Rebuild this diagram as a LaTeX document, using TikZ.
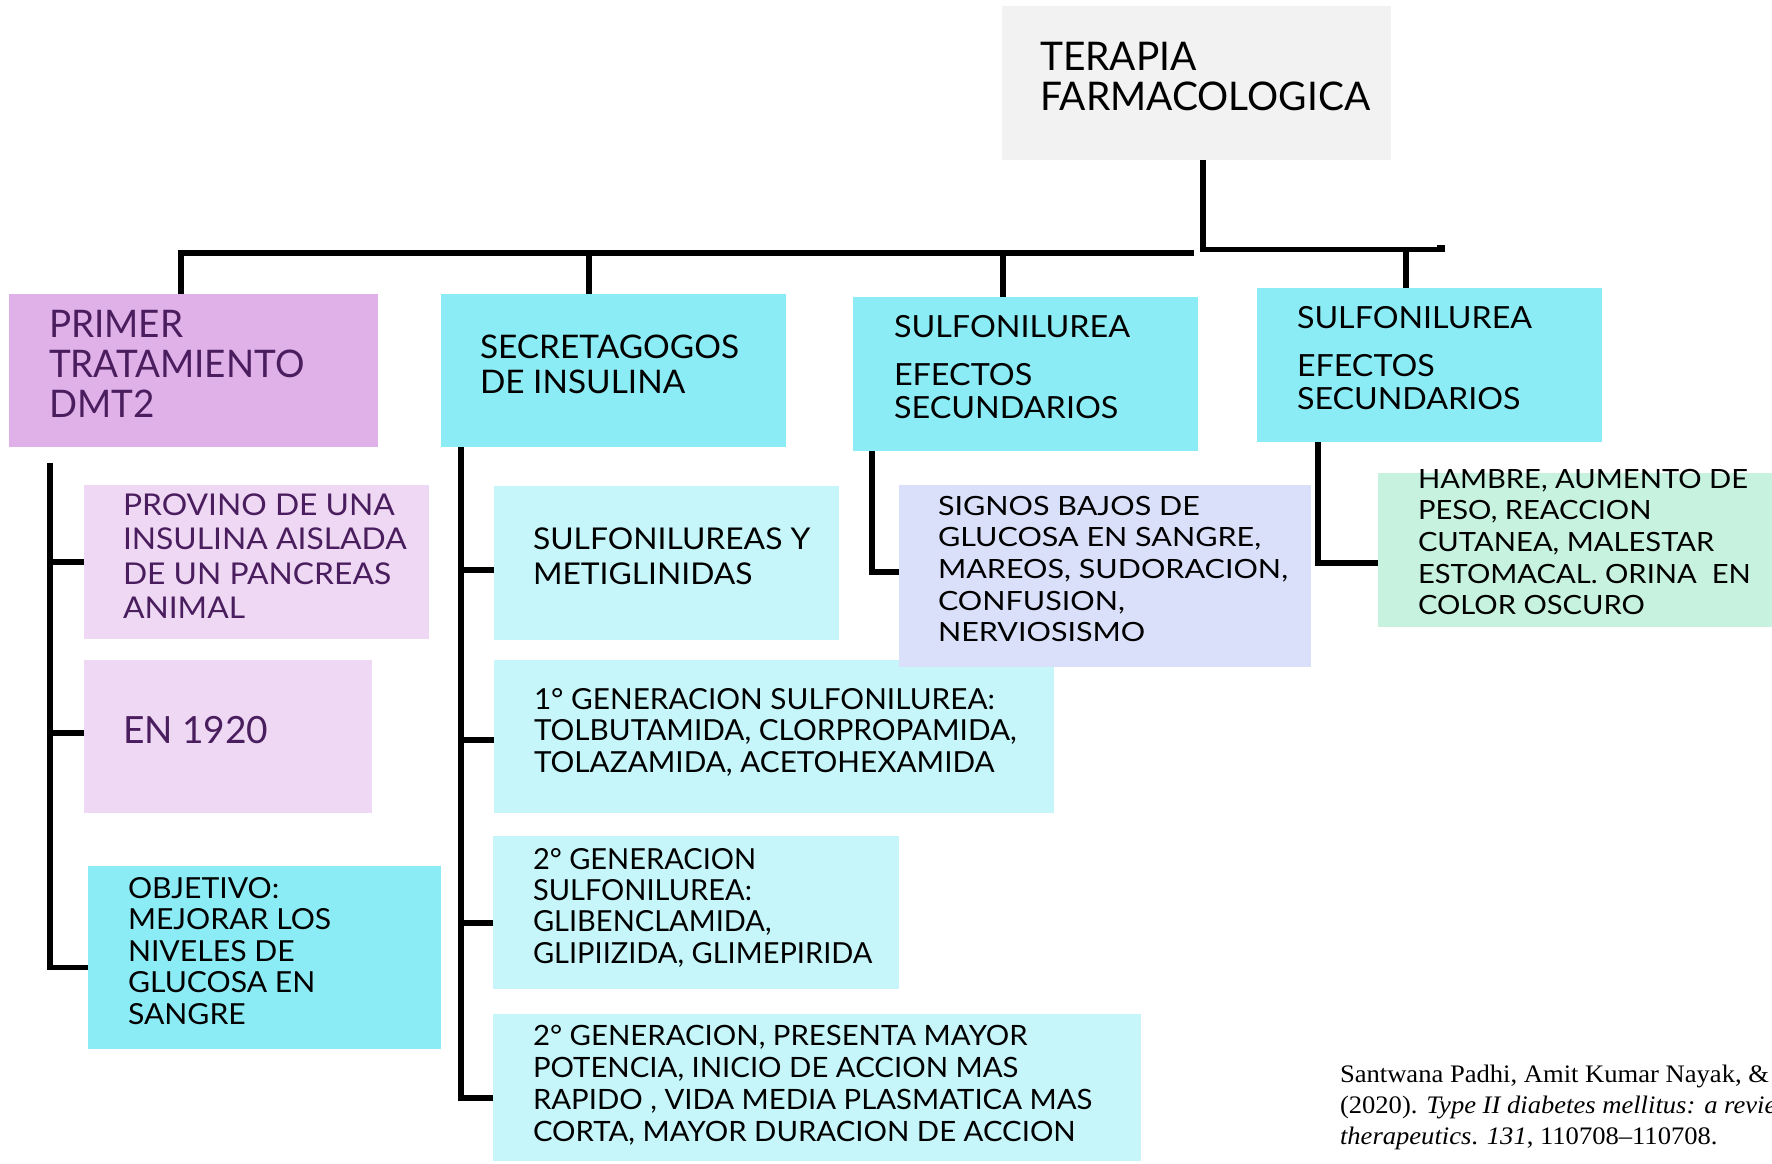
\documentclass[tikz,border=0pt]{standalone}
\usepackage{fontspec}
\setmainfont{Lato}
\newfontfamily\citefont{Liberation Serif}
\definecolor{cgray}{HTML}{F2F2F2}
\definecolor{cpurple}{HTML}{E0B0E8}
\definecolor{clilac}{HTML}{EED8F3}
\definecolor{ccyan}{HTML}{8CECF5}
\definecolor{clcyan}{HTML}{C6F6FA}
\definecolor{cblue}{HTML}{DAE0FA}
\definecolor{cgreen}{HTML}{C8F2E0}
\definecolor{tpurple}{HTML}{4A1E5E}
\newcommand{\mlines}[2][1]{\scalebox{#1}[1]{\begin{tabular}[t]{@{}l@{}}#2\end{tabular}}}
\newcommand{\fs}[2]{\fontsize{#1}{#2}\selectfont}
\tikzset{
  box/.style={draw=none, inner sep=0pt, outer sep=0pt, anchor=north west, rectangle},
  txt/.style={anchor=base west, inner sep=0pt, outer sep=0pt, text=black},
  ptxt/.style={txt, text=tpurple},
  conn/.style={line width=2.6pt, black, line join=miter}
}
\begin{document}
\begin{tikzpicture}[x=0.5pt,y=-0.5pt]
\useasboundingbox (0,0) rectangle (1772,1163);
% boxes
\node[box, fill=cgray,   minimum width=194.5pt, minimum height=77pt]   (ter)      at (1002,6) {};
\node[box, fill=cpurple, minimum width=184.5pt, minimum height=76.5pt] (primer)   at (9,294) {};
\node[box, fill=ccyan,   minimum width=172.5pt, minimum height=76.5pt] (secr)     at (441,294) {};
\node[box, fill=ccyan,   minimum width=172.5pt, minimum height=77pt]   (sulf1)    at (853,297) {};
\node[box, fill=ccyan,   minimum width=172.5pt, minimum height=77pt]   (sulf2)    at (1257,288) {};
\node[box, fill=clilac,  minimum width=172.5pt, minimum height=77pt]   (provino)  at (84,485) {};
\node[box, fill=clilac,  minimum width=144pt,   minimum height=76.5pt] (en1920)   at (84,660) {};
\node[box, fill=ccyan,   minimum width=176.5pt, minimum height=91.5pt] (objetivo) at (88,866) {};
\node[box, fill=clcyan,  minimum width=172.5pt, minimum height=77pt]   (sulfy)    at (494,486) {};
\node[box, fill=clcyan,  minimum width=280pt,   minimum height=76.5pt] (gen1)     at (494,660) {};
\node[box, fill=clcyan,  minimum width=203pt,   minimum height=76.5pt] (gen2)     at (493,836) {};
\node[box, fill=clcyan,  minimum width=324pt,   minimum height=73.5pt] (gen2b)    at (493,1014) {};
\node[box, fill=cblue,   minimum width=206pt,   minimum height=91pt]   (signos)   at (899,485) {};
\node[box, fill=cgreen,  minimum width=197pt,   minimum height=77pt]   (hambre)   at (1378,473) {};
% texts
\node[txt, font=\fs{19.75}{19.5}] (t-ter) at (1040,70) {\mlines[0.985]{TERAPIA\\FARMACOLOGICA}};
\node[ptxt, font=\fs{19}{20}] (t-primer) at (49,337) {\mlines[0.97]{PRIMER\\TRATAMIENTO\\DMT2}};
\node[txt, font=\fs{16.25}{17.5}] (t-secr) at (480,358) {\mlines[1.027]{SECRETAGOGOS\\DE INSULINA}};
\node[txt, font=\fs{15.25}{16.5}] (t-sulf1) at (894,337) {\mlines[1.06]{SULFONILUREA\\[7.5pt] EFECTOS\\SECUNDARIOS}};
\node[txt, font=\fs{15.25}{16.5}] (t-sulf2) at (1297,328) {\mlines[1.056]{SULFONILUREA\\[7.5pt] EFECTOS\\SECUNDARIOS}};
\node[ptxt, font=\fs{15}{17.25}] (t-provino) at (123,515) {\mlines[1.06]{PROVINO DE UNA\\INSULINA AISLADA\\DE UN PANCREAS\\ANIMAL}};
\node[ptxt, font=\fs{18.75}{20}] (t-en1920) at (123,743) {\mlines[0.99]{EN 1920}};
\node[txt, font=\fs{14.5}{15.75}] (t-objetivo) at (128,898) {\mlines[1.04]{OBJETIVO:\\MEJORAR LOS\\NIVELES DE\\GLUCOSA EN\\SANGRE}};
\node[txt, font=\fs{15}{17.5}] (t-sulfy) at (533,549) {\mlines[1.06]{SULFONILUREAS Y\\METIGLINIDAS}};
\node[txt, font=\fs{14.5}{15.75}] (t-gen1) at (534,709) {\mlines[1.025]{1° GENERACION SULFONILUREA:\\TOLBUTAMIDA, CLORPROPAMIDA,\\TOLAZAMIDA, ACETOHEXAMIDA}};
\node[txt, font=\fs{14.5}{15.7}] (t-gen2) at (533,869) {\mlines{2° GENERACION\\SULFONILUREA:\\GLIBENCLAMIDA,\\GLIPIIZIDA, GLIMEPIRIDA}};
\node[txt, font=\fs{14}{16}] (t-gen2b) at (533,1045) {\mlines[1.047]{2° GENERACION, PRESENTA MAYOR\\POTENCIA, INICIO DE ACCION MAS\\RAPIDO , VIDA MEDIA PLASMATICA MAS\\CORTA, MAYOR DURACION DE ACCION}};
\node[txt, font=\fs{13.25}{15.85}] (t-signos) at (938,515) {\mlines[1.15]{SIGNOS BAJOS DE\\GLUCOSA EN SANGRE,\\MAREOS, SUDORACION,\\CONFUSION,\\NERVIOSISMO}};
\node[txt, font=\fs{13.25}{15.85}] (t-hambre) at (1418,488) {\mlines[1.10]{HAMBRE, AUMENTO DE\\PESO, REACCION\\CUTANEA, MALESTAR\\ESTOMACAL. ORINA\ \ EN\\COLOR OSCURO}};
% citation (clipped at the picture edge)
\begin{scope}
\clip (0,0) rectangle (1772,1163);
\node[txt, font=\citefont\fs{12.6}{15.5}] (cita) at (1340,1082) {\mlines[1.055]{Santwana Padhi, Amit Kumar Nayak, \&\\(2020). \textit{Type II diabetes mellitus: a revie}\\\textit{therapeutics}. \textit{131}, 110708–110708.}};
\end{scope}
% top connectors
\coordinate (bl) at (181,253);
\coordinate (br) at (1194,253);
\coordinate (d2) at (589,253);
\coordinate (d3) at (1003,253);
\coordinate (tr) at (1203,249.5);
\coordinate (trend) at (1445,249.5);
\coordinate (d4) at (1406,249.5);
\draw[conn] (bl |- primer.north) -- (bl) -- (br);
\draw[conn] (d2) -- (d2 |- secr.north);
\draw[conn] (d3) -- (d3 |- sulf1.north);
\draw[conn] (tr |- ter.south) -- (tr) -- (trend);
\fill[black] ([xshift=-4pt,yshift=2.2pt]trend) rectangle ([yshift=-1.3pt]trend);
\draw[conn] (d4) -- (d4 |- sulf2.north);
% left tree
\draw[conn] ([xshift=20.5pt,yshift=-8pt]primer.south west) |- ([yshift=-5pt]objetivo.west);
\draw[conn] (provino.west) -- ++(-34,0);
\draw[conn] ([yshift=1.75pt]en1920.west) -- ++(-34,0);
% secretagogos tree
\draw[conn] ([xshift=10pt]secr.south west) |- ([yshift=-5.25pt]gen2b.west);
\draw[conn] ([yshift=-3.5pt]sulfy.west) -- ++(-33,0);
\draw[conn] ([yshift=-1.75pt]gen1.west) -- ++(-33,0);
\draw[conn] ([yshift=-5.25pt]gen2.west) -- ++(-32,0);
% sulfonilurea trees
\draw[conn] ([xshift=9.5pt]sulf1.south west) |- ([yshift=2pt]signos.west);
\draw[conn] ([xshift=30.5pt]sulf2.south west) |- ([yshift=-6.5pt]hambre.west);
\end{tikzpicture}
\end{document}
